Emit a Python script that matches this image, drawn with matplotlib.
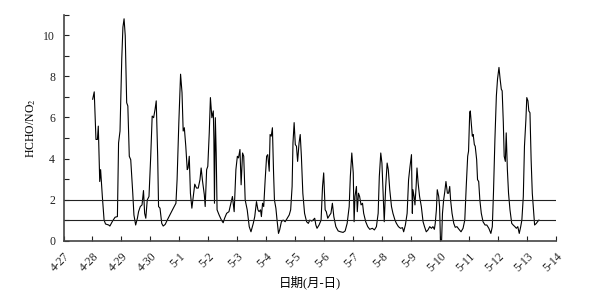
import matplotlib.pyplot as plt
from matplotlib.ticker import MultipleLocator

# time in days since 4-27 00:00, HCHO/NO2 ratio
days = [1.006, 1.06, 1.12, 1.17, 1.20, 1.25, 1.28, 1.34, 1.40, 1.45, 1.56, 1.60, 1.70, 1.78, 1.86,
        1.90, 1.95, 2.01, 2.05, 2.09, 2.13, 2.18, 2.22, 2.27, 2.32, 2.39, 2.43, 2.49, 2.55, 2.59,
        2.65, 2.71, 2.76, 2.80, 2.84, 2.89, 2.95, 3.01, 3.06, 3.11, 3.16, 3.20, 3.25, 3.28, 3.33,
        3.39, 3.44, 3.51, 3.58, 3.67, 3.79, 3.88, 3.92, 3.98, 4.04, 4.09, 4.13, 4.17, 4.22, 4.27,
        4.30, 4.34, 4.38, 4.43, 4.49, 4.53, 4.59, 4.65, 4.71, 4.75, 4.80, 4.86, 4.89, 4.94, 4.98,
        5.03, 5.07, 5.12, 5.17, 5.19, 5.21, 5.24, 5.27, 5.30, 5.37, 5.45, 5.51, 5.56, 5.63, 5.71,
        5.83, 5.89, 5.95, 6.00, 6.04, 6.09, 6.13, 6.18, 6.22, 6.27, 6.34, 6.41, 6.47, 6.55, 6.60,
        6.66, 6.71, 6.75, 6.80, 6.83, 6.87, 6.91, 6.96, 7.01, 7.05, 7.10, 7.13, 7.17, 7.21, 7.25,
        7.28, 7.33, 7.37, 7.42, 7.46, 7.52, 7.58, 7.65, 7.72, 7.79, 7.84, 7.89, 7.92, 7.96, 8.00,
        8.04, 8.08, 8.13, 8.17, 8.21, 8.26, 8.32, 8.39, 8.45, 8.50, 8.57, 8.61, 8.67, 8.71, 8.75,
        8.82, 8.89, 8.94, 8.98, 9.03, 9.07, 9.12, 9.19, 9.23, 9.28, 9.33, 9.40, 9.48, 9.56, 9.65,
        9.72, 9.79, 9.86, 9.90, 9.95, 10.00, 10.03, 10.06, 10.11, 10.14, 10.18, 10.22, 10.27, 10.32,
        10.36, 10.43, 10.50, 10.57, 10.66, 10.73, 10.80, 10.86, 10.90, 10.95, 10.99, 11.04, 11.07,
        11.12, 11.17, 11.21, 11.26, 11.32, 11.37, 11.44, 11.49, 11.56, 11.63, 11.70, 11.74, 11.80,
        11.86, 11.91, 11.96, 12.01, 12.04, 12.06, 12.10, 12.13, 12.17, 12.20, 12.24, 12.29, 12.35,
        12.41, 12.46, 12.52, 12.58, 12.64, 12.70, 12.75, 12.80, 12.83, 12.87, 12.90, 12.95, 12.98,
        13.01, 13.03, 13.05, 13.08, 13.12, 13.16, 13.20, 13.25, 13.29, 13.33, 13.36, 13.41, 13.47,
        13.52, 13.58, 13.65, 13.72, 13.79, 13.85, 13.90, 13.95, 13.98, 14.02, 14.04, 14.08, 14.11,
        14.14, 14.18, 14.21, 14.26, 14.29, 14.33, 14.37, 14.42, 14.48, 14.55, 14.61, 14.68, 14.75,
        14.80, 14.84, 14.89, 14.94, 14.98, 15.03, 15.07, 15.11, 15.14, 15.18, 15.21, 15.25, 15.28,
        15.32, 15.36, 15.41, 15.47, 15.52, 15.58, 15.63, 15.68, 15.73, 15.78, 15.82, 15.87, 15.91,
        15.96, 15.99, 16.03, 16.06, 16.10, 16.14, 16.18, 16.22, 16.26, 16.32, 16.36, 16.41]
ratio = [6.89, 7.25, 4.93, 4.93, 5.58, 2.88, 3.46, 2.15, 1.00, 0.81, 0.76, 0.71, 0.97, 1.14, 1.17,
         4.76, 5.34, 8.85, 10.40, 10.81, 9.99, 6.72, 6.56, 4.11, 3.94, 2.31, 1.25, 0.76, 1.09, 1.41,
         1.66, 1.74, 2.44, 1.33, 1.09, 1.98, 2.15, 4.11, 6.07, 5.99, 6.40, 6.81, 4.11, 1.66, 1.58,
         0.84, 0.71, 0.79, 1.00, 1.25, 1.58, 1.82, 2.97, 5.75, 8.11, 7.21, 5.34, 5.50, 4.60, 3.46,
         3.54, 4.11, 2.31, 1.58, 2.31, 2.75, 2.56, 2.56, 2.97, 3.54, 2.88, 2.23, 1.66, 3.46, 3.62,
         5.25, 6.97, 5.99, 6.32, 4.93, 1.82, 5.99, 4.27, 1.50, 1.25, 1.00, 0.87, 1.09, 1.33, 1.41,
         2.15, 1.41, 3.46, 4.11, 4.03, 4.44, 2.72, 4.27, 4.11, 1.98, 1.50, 0.68, 0.43, 0.84, 1.17,
         1.90, 1.50, 1.41, 1.50, 1.17, 1.82, 1.66, 2.97, 4.11, 4.19, 3.38, 5.17, 5.09, 5.50, 3.30,
         1.98, 1.58, 1.00, 0.35, 0.52, 0.92, 1.00, 0.92, 1.09, 1.25, 1.50, 2.64, 4.76, 5.75, 4.68,
         4.60, 3.86, 4.76, 5.17, 4.11, 2.31, 1.33, 0.92, 0.84, 1.00, 0.95, 1.00, 1.09, 0.76, 0.60,
         0.76, 1.00, 2.64, 3.30, 1.50, 1.41, 1.09, 1.25, 1.33, 1.82, 1.17, 0.68, 0.47, 0.43, 0.40,
         0.47, 0.84, 1.66, 3.13, 4.27, 3.30, 0.92, 2.15, 2.64, 1.41, 2.31, 2.15, 1.74, 1.82,
         1.33, 0.92, 0.68, 0.55, 0.60, 0.52, 0.68, 1.33, 3.13, 4.27, 3.78, 1.98, 0.92,
         2.64, 3.78, 3.46, 2.48, 1.66, 1.33, 1.00, 0.84, 0.68, 0.60, 0.63, 0.43, 0.76,
         1.33, 2.97, 3.62, 4.19, 1.33, 2.48, 2.15, 1.74, 2.64, 3.54, 2.80, 2.15, 1.66,
         0.92, 0.68, 0.43, 0.52, 0.68, 0.60, 0.68, 0.55, 0.84, 1.50, 2.48, 2.15, 1.66,
         0.02, 0.02, 0.02, 1.33, 1.98, 2.39, 2.88, 2.31, 2.31, 2.64, 1.98, 1.33, 0.84,
         0.65, 0.68, 0.55, 0.43, 0.60, 1.00, 2.64, 4.11, 4.36, 6.23, 6.32, 5.58, 5.09,
         5.17, 4.68, 4.60, 3.94, 2.97, 2.88, 1.98, 1.33, 0.92, 0.76, 0.76, 0.60, 0.35,
         0.68, 2.31, 4.93, 7.05, 7.87, 8.44, 7.87, 7.38, 7.30, 5.75, 4.11, 3.86, 5.25,
         3.46, 2.31, 1.50, 0.84, 0.76, 0.68, 0.60, 0.68, 0.35, 0.68, 1.00, 2.15, 4.60,
         5.91, 6.97, 6.81, 6.32, 6.23, 3.94, 2.31, 1.50, 0.76, 0.84, 0.92, 1.00]

date_labels = ['4-27', '4-28', '4-29', '4-30', '5-1', '5-2', '5-3', '5-4', '5-5',
               '5-6', '5-7', '5-8', '5-9', '5-10', '5-11', '5-12', '5-13', '5-14']
ref_levels = [1, 2]

plt.rcParams['font.family'] = ['Liberation Serif', 'Noto Sans CJK SC']
plt.rcParams['mathtext.fontset'] = 'stix'

fig = plt.figure(figsize=(5.97, 2.92), dpi=100)
ax = fig.add_axes([0.1064, 0.176, 0.8250, 0.773])

ax.plot(days, ratio, color='black', lw=0.8)
for lv in ref_levels:
    ax.axhline(lv, color='#222222', lw=0.8)

ax.set_xlim(0, len(date_labels) - 1)
ax.set_ylim(0, 11)
ax.set_xticks(range(len(date_labels)))
ax.set_xticklabels(date_labels, rotation=45, ha='right', rotation_mode='anchor')
ax.yaxis.set_major_locator(MultipleLocator(2))
ax.yaxis.set_minor_locator(MultipleLocator(1))
ax.tick_params(axis='both', which='both', direction='in', length=3.5, width=0.8,
               labelsize=8.5, colors='#222222')
ax.tick_params(axis='x', pad=7)
ax.tick_params(axis='y', pad=6)

for s in ['top', 'right']:
    ax.spines[s].set_visible(False)
for s in ['left', 'bottom']:
    ax.spines[s].set_linewidth(1.2)
    ax.spines[s].set_color('#444444')

ax.set_ylabel('HCHO/NO$_2$', fontsize=8.5, labelpad=4)
ax.set_xlabel('日期(月-日)', fontsize=9, labelpad=1)

fig.savefig('out.png', dpi=100)
